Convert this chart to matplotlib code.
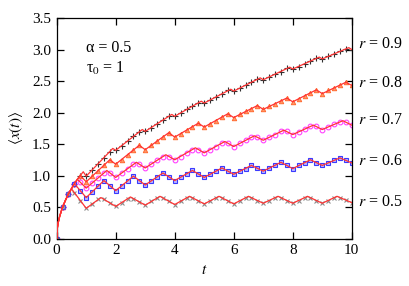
import matplotlib
matplotlib.use("Agg")
import matplotlib.pyplot as plt

# ── Data ────────────────────────────────────────────────────────────────────
# simulation points, sampled every 0.2 in t
t_sim = [round(0.2 * i, 1) for i in range(51)]

sim_r05 = [0.00, 0.50, 0.71, 0.73, 0.60, 0.48, 0.55, 0.62, 0.62, 0.57,
           0.51, 0.57, 0.63, 0.63, 0.58, 0.53, 0.59, 0.64, 0.64, 0.59,
           0.54, 0.59, 0.64, 0.65, 0.60, 0.55, 0.60, 0.65, 0.65, 0.60,
           0.55, 0.60, 0.65, 0.65, 0.60, 0.56, 0.60, 0.65, 0.65, 0.60,
           0.56, 0.60, 0.65, 0.65, 0.60, 0.56, 0.60, 0.65, 0.65, 0.61,
           0.57]
sim_r06 = [0.00, 0.50, 0.71, 0.87, 0.76, 0.65, 0.74, 0.83, 0.92, 0.84,
           0.76, 0.84, 0.91, 0.99, 0.92, 0.85, 0.91, 0.98, 1.04, 0.98,
           0.92, 0.97, 1.03, 1.08, 1.02, 0.97, 1.02, 1.07, 1.12, 1.07,
           1.02, 1.07, 1.11, 1.16, 1.12, 1.07, 1.12, 1.16, 1.21, 1.16,
           1.11, 1.16, 1.20, 1.25, 1.20, 1.16, 1.20, 1.24, 1.28, 1.24,
           1.20]
sim_r07 = [0.00, 0.50, 0.71, 0.87, 0.89, 0.80, 0.88, 0.96, 1.04, 1.04,
           0.97, 1.04, 1.11, 1.18, 1.18, 1.12, 1.18, 1.24, 1.30, 1.30,
           1.25, 1.30, 1.36, 1.41, 1.41, 1.36, 1.41, 1.46, 1.51, 1.51,
           1.46, 1.51, 1.56, 1.61, 1.61, 1.56, 1.61, 1.65, 1.70, 1.70,
           1.65, 1.69, 1.74, 1.78, 1.78, 1.73, 1.77, 1.81, 1.85, 1.85,
           1.80]
sim_r08 = [0.00, 0.50, 0.71, 0.87, 1.00, 0.90, 0.99, 1.07, 1.16, 1.25,
           1.18, 1.25, 1.33, 1.40, 1.48, 1.41, 1.48, 1.55, 1.61, 1.68,
           1.61, 1.66, 1.72, 1.77, 1.83, 1.77, 1.82, 1.87, 1.93, 1.98,
           1.92, 1.97, 2.02, 2.06, 2.11, 2.05, 2.10, 2.14, 2.18, 2.23,
           2.17, 2.22, 2.27, 2.31, 2.36, 2.30, 2.35, 2.39, 2.44, 2.48,
           2.43]
sim_r09 = [0.00, 0.50, 0.71, 0.87, 1.00, 0.99, 1.09, 1.19, 1.28, 1.38,
           1.40, 1.47, 1.55, 1.62, 1.69, 1.70, 1.76, 1.82, 1.88, 1.94,
           1.94, 1.99, 2.05, 2.10, 2.15, 2.15, 2.20, 2.25, 2.30, 2.35,
           2.34, 2.39, 2.43, 2.48, 2.53, 2.52, 2.56, 2.61, 2.65, 2.70,
           2.69, 2.73, 2.77, 2.82, 2.86, 2.85, 2.89, 2.93, 2.97, 3.01,
           3.00]

# theory curves: corners at the resets (integer t) and at the turnarounds (n + r)
t_start = [0.0, 0.02, 0.05, 0.1, 0.2, 0.3, 0.4]
x_start = [0.0, 0.16, 0.25, 0.35, 0.50, 0.61, 0.71]

th_t05 = [0.5, 1, 1.5, 2, 2.5, 3, 3.5, 4, 4.5, 5, 5.5, 6, 6.5, 7, 7.5, 8, 8.5, 9, 9.5, 10]
th_x05 = [0.79, 0.48, 0.65, 0.51, 0.66, 0.53, 0.67, 0.54, 0.67, 0.55, 0.67, 0.55,
          0.67, 0.56, 0.67, 0.56, 0.67, 0.56, 0.67, 0.57]
th_t06 = [0.5, 0.6, 1, 1.6, 2, 2.6, 3, 3.6, 4, 4.6, 5, 5.6, 6, 6.6, 7, 7.6, 8, 8.6, 9, 9.6, 10]
th_x06 = [0.79, 0.87, 0.65, 0.92, 0.76, 0.99, 0.85, 1.04, 0.92, 1.08, 0.97, 1.12,
          1.02, 1.16, 1.07, 1.21, 1.11, 1.25, 1.16, 1.28, 1.20]
th_t07 = [0.5, 0.6, 0.7, 1, 1.7, 2, 2.7, 3, 3.7, 4, 4.7, 5, 5.7, 6, 6.7, 7, 7.7, 8, 8.7, 9, 9.7, 10]
th_x07 = [0.79, 0.87, 0.94, 0.80, 1.08, 0.97, 1.21, 1.12, 1.33, 1.25, 1.44, 1.36,
          1.54, 1.46, 1.63, 1.56, 1.72, 1.65, 1.80, 1.73, 1.87, 1.80]
th_t08 = [0.5, 0.6, 0.7, 0.8, 1, 1.8, 2, 2.8, 3, 3.8, 4, 4.8, 5, 5.8, 6, 6.8, 7, 7.8, 8, 8.8, 9, 9.8, 10]
th_x08 = [0.79, 0.87, 0.94, 1.00, 0.90, 1.25, 1.18, 1.48, 1.41, 1.68, 1.61, 1.83,
          1.77, 1.98, 1.92, 2.11, 2.05, 2.23, 2.17, 2.36, 2.30, 2.48, 2.43]
th_t09 = [0.5, 0.6, 0.7, 0.8, 0.9, 1, 1.9, 2, 2.9, 3, 3.9, 4, 4.9, 5, 5.9, 6, 6.9, 7, 7.9, 8, 8.9, 9, 9.9, 10]
th_x09 = [0.79, 0.87, 0.94, 1.00, 1.06, 0.99, 1.43, 1.40, 1.73, 1.70, 1.97, 1.94,
          2.18, 2.15, 2.37, 2.34, 2.55, 2.52, 2.72, 2.69, 2.88, 2.85, 3.03, 3.00]

r_values = ["0.9", "0.8", "0.7", "0.6", "0.5"]
r_label_y = [3.09, 2.47, 1.88, 1.23, 0.58]

# ── Style ───────────────────────────────────────────────────────────────────
plt.rcParams["font.family"] = ["Liberation Serif", "DejaVu Serif"]
plt.rcParams["mathtext.fontset"] = "stix"
plt.rcParams["font.size"] = 11

RED = "#ff3333"

fig = plt.figure(figsize=(4.09, 2.86), dpi=100)
ax = fig.add_axes([0.1386, 0.166, 0.7214, 0.771])

series = [
    (th_t09, th_x09, sim_r09, dict(marker="+", color="#303030", ms=4.0, mew=0.8, ls="none")),
    (th_t08, th_x08, sim_r08, dict(marker="^", color="#ff6a30", mfc="#ff9a6a", ms=3.2, mew=0.7, ls="none")),
    (th_t07, th_x07, sim_r07, dict(marker="o", color="#ff40ff", mfc="none", ms=3.4, mew=0.8, ls="none")),
    (th_t06, th_x06, sim_r06, dict(marker="s", color="#3a3aff", mfc="#b8b8ff", ms=3.4, mew=0.8, ls="none")),
    (th_t05, th_x05, sim_r05, dict(marker="x", color="#8c8c8c", ms=3.4, mew=0.8, ls="none")),
]

for th_t, th_x, sim, style in series:
    ax.plot(t_sim, sim, zorder=2, **style)
for th_t, th_x, sim, style in series:
    ax.plot(t_start + th_t, x_start + th_x, color=RED, lw=0.9, zorder=3)

ax.set_xlim(0, 10)
ax.set_ylim(0, 3.5)
ax.set_xticks([0, 2, 4, 6, 8, 10])
ax.set_yticks([0, 0.5, 1.0, 1.5, 2.0, 2.5, 3.0, 3.5])
ax.set_yticklabels([f"{v:.1f}" for v in ax.get_yticks()])
ax.tick_params(direction="in", top=True, right=True, length=5, width=0.9,
               pad=4, labelsize=11)
for sp in ax.spines.values():
    sp.set_linewidth(0.9)

ax.set_xlabel(r"$t$", fontsize=11, labelpad=5)
ax.set_ylabel(r"$\langle x(t)\rangle$", fontsize=11, labelpad=5)

ax.text(1.0, 3.02, "α = 0.5", fontsize=11.5, va="center")
ax.text(1.0, 2.70, "τ$_0$ = 1", fontsize=11.5, va="center")

for val, y in zip(r_values, r_label_y):
    ax.text(10.2, y, r"$r$ = " + val, fontsize=11.5, va="center", clip_on=False)

fig.savefig("out.png", dpi=100)
